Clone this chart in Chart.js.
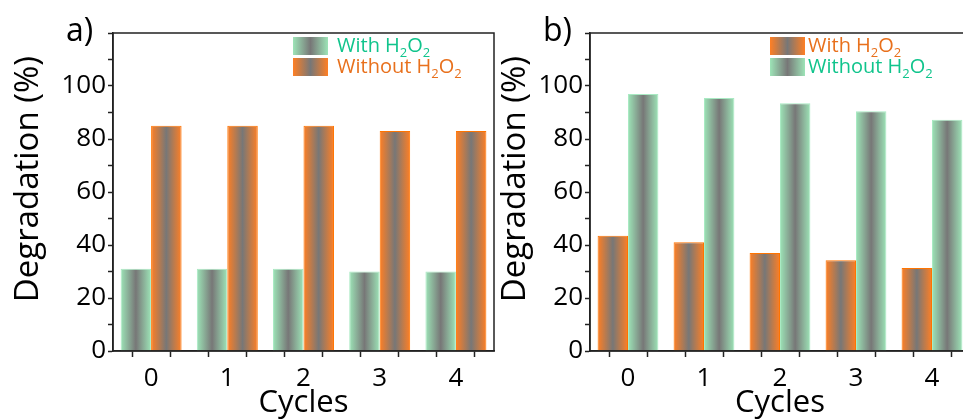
<!DOCTYPE html>
<html>
<head>
<meta charset="utf-8">
<script src="https://cdn.jsdelivr.net/npm/chart.js@4.4.1/dist/chart.umd.min.js"></script>
<style>
    html, body { margin: 0; padding: 0; background: #fff; }
    body { width: 963px; height: 419px; position: relative; overflow: hidden; }
    canvas { position: absolute; top: 0; }
    #chart-a { left: 0; }
    #chart-b { left: 477px; }
</style>
</head>
<body>
<canvas id="chart-a" width="500" height="419"></canvas>
<canvas id="chart-b" width="499" height="419"></canvas>
<script>
// Cycle numbers on the x axis
const cycles = [0, 1, 2, 3, 4];

// Panel a) degradation (%)
const aWithH2O2 = [31, 31, 31, 30, 30];
const aWithoutH2O2 = [85, 85, 85, 83, 83];

// Panel b) degradation (%)
const bWithH2O2 = [43.5, 41, 37, 34.2, 31.3];
const bWithoutH2O2 = [97, 95.5, 93.5, 90.5, 87.3];

// Y tick labels that are printed (the rest are minor ticks)
const yLabels = [0, 20, 40, 60, 80, 100];

const FONT = "'Open Sans', 'DejaVu Sans', sans-serif";
const GREEN = '#9de4b7';
const ORANGE = '#ff7f24';
const GRAY = '#777777';
const GREEN_TEXT = '#10c48c';
const ORANGE_TEXT = '#e8701c';

// Gradient fill edge -> gray -> edge, one per bar
function barFill(edge) {
    return function (c) {
        const chart = c.chart;
        const x = chart.scales.x;
        if (!x || !chart.chartArea || !c.parsed) return edge;
        const step = x.getPixelForValue(1) - x.getPixelForValue(0);
        const w = step * 0.8 / 2;
        const center = x.getPixelForValue(c.parsed.x);
        const left = c.datasetIndex === 0 ? center - w : center;
        const g = chart.ctx.createLinearGradient(left, 0, left + w, 0);
        g.addColorStop(0, edge);
        g.addColorStop(0.5, GRAY);
        g.addColorStop(1, edge);
        return g;
    };
}

// Draws text with "_2" parts as subscripts
function drawChem(ctx, text, x, y, size, color) {
    ctx.fillStyle = color;
    ctx.textBaseline = 'middle';
    ctx.textAlign = 'left';
    const parts = text.split(/(_2)/);
    parts.forEach(p => {
        if (p === '_2') {
            ctx.font = '500 ' + Math.round(size * 0.65) + 'px ' + FONT;
            ctx.fillText('2', x, y + size * 0.38);
            x += ctx.measureText('2').width;
        } else if (p) {
            ctx.font = '500 ' + size + 'px ' + FONT;
            ctx.fillText(p, x, y);
            x += ctx.measureText(p).width;
        }
    });
}

// Frame, panel letter and legend
const decorPlugin = {
    id: 'decor',
    afterDraw(chart, args, opts) {
        const ctx = chart.ctx;
        const a = chart.chartArea;
        ctx.save();
        ctx.strokeStyle = '#222';
        ctx.lineWidth = 1.5;
        ctx.strokeRect(a.left, a.top, a.right - a.left, a.bottom - a.top);

        ctx.fillStyle = '#000';
        ctx.font = '500 32px ' + FONT;
        ctx.textBaseline = 'alphabetic';
        ctx.textAlign = 'left';
        ctx.fillText(opts.letter, a.left - 47, 41);

        opts.items.forEach((item, i) => {
            const bx = a.left + 180;
            const by = 37 + i * 21;
            const bw = 35, bh = 18;
            const g = ctx.createLinearGradient(bx, 0, bx + bw, 0);
            g.addColorStop(0, item.edge);
            g.addColorStop(0.5, GRAY);
            g.addColorStop(1, item.edge);
            ctx.fillStyle = g;
            ctx.fillRect(bx, by, bw, bh);
            drawChem(ctx, item.text, bx + bw + opts.gap, by + bh / 2, 20, item.color);
        });
        ctx.restore();
    }
};

function makePanel(id, withData, withoutData, withEdge, withoutEdge, letter, titlePad, gap) {
    const ctx = document.getElementById(id).getContext('2d');
    return new Chart(ctx, {
        type: 'bar',
        data: {
            datasets: [{
                label: 'With H2O2',
                data: withData.map((v, i) => ({ x: cycles[i], y: v })),
                backgroundColor: barFill(withEdge),
                borderColor: withEdge === ORANGE ? '#ff7400' : '#a9eac3',
                borderWidth: 1
            }, {
                label: 'Without H2O2',
                data: withoutData.map((v, i) => ({ x: cycles[i], y: v })),
                backgroundColor: barFill(withoutEdge),
                borderColor: withoutEdge === ORANGE ? '#ff7400' : '#a9eac3',
                borderWidth: 1
            }]
        },
        options: {
            responsive: false,
            animation: false,
            // bar ruler measures against the half-step ticks, so 1.6 here = 80% of one cycle
            categoryPercentage: 1.6,
            barPercentage: 1,
            layout: { padding: { top: 33, right: 5, left: 0, bottom: 0 } },
            plugins: {
                legend: { display: false },
                tooltip: { enabled: false },
                decor: {
                    letter,
                    gap,
                    items: [
                        { text: 'With H_2O_2', edge: withEdge, color: withEdge === ORANGE ? ORANGE_TEXT : GREEN_TEXT },
                        { text: 'Without H_2O_2', edge: withoutEdge, color: withoutEdge === ORANGE ? ORANGE_TEXT : GREEN_TEXT }
                    ]
                }
            },
            scales: {
                x: {
                    type: 'linear',
                    min: -0.5,
                    max: 4.5,
                    offset: false,
                    afterFit: s => { s.height = 68; },
                    grid: { drawOnChartArea: false, tickLength: 6, tickColor: '#222', tickWidth: 1.5 },
                    border: { color: '#222', width: 1.5 },
                    ticks: {
                        stepSize: 0.5,
                        autoSkip: false,
                        maxRotation: 0,
                        padding: 6,
                        color: '#000',
                        font: { family: FONT, size: 26, weight: '500' },
                        callback: v => Number.isInteger(v) && cycles.includes(v) ? String(v) : ''
                    },
                    title: {
                        display: true,
                        text: 'Cycles',
                        color: '#000',
                        font: { family: FONT, size: 31, weight: '500', lineHeight: 1 },
                        padding: { top: 0, bottom: 0 }
                    }
                },
                y: {
                    min: 0,
                    max: 120,
                    afterFit: s => { s.width = 113; },
                    grid: { drawOnChartArea: false, tickLength: 5, tickColor: '#222', tickWidth: 1.5 },
                    border: { color: '#222', width: 1.5 },
                    ticks: {
                        stepSize: 10,
                        autoSkip: false,
                        padding: 2,
                        color: '#000',
                        font: { family: FONT, size: 26, weight: '500' },
                        callback: v => yLabels.includes(v) ? String(v) : ''
                    },
                    title: {
                        display: true,
                        text: '\u00a0\u00a0\u00a0Degradation (%)',
                        color: '#000',
                        font: { family: FONT, size: 33, weight: '500', lineHeight: 1 },
                        padding: { top: titlePad, bottom: 0 }
                    }
                }
            }
        },
        plugins: [decorPlugin]
    });
}

makePanel('chart-a', aWithH2O2, aWithoutH2O2, GREEN, ORANGE, 'a)', 12, 9);
makePanel('chart-b', bWithH2O2, bWithoutH2O2, ORANGE, GREEN, 'b)', 22, 3);
</script>
</body>
</html>
